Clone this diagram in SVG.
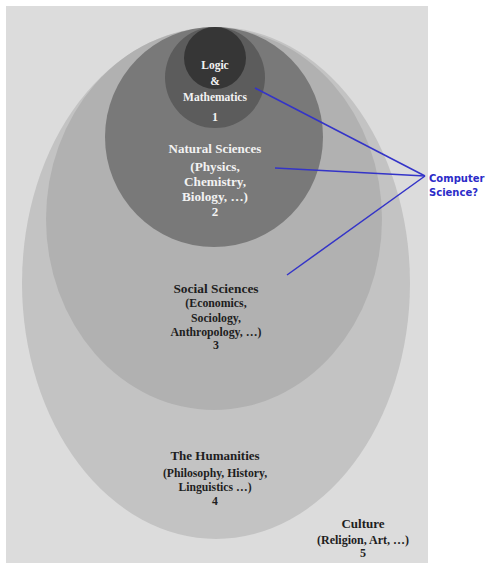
<svg xmlns="http://www.w3.org/2000/svg" width="488" height="565" viewBox="0 0 488 565">
<style>
.lbl{font-family:"Liberation Serif","Times New Roman",serif;font-weight:bold;text-anchor:middle}
.w{fill:#f2f2f2}
.d{fill:#1e1e1e}
.cs{font-family:"DejaVu Sans",sans-serif;font-weight:bold;font-size:10px;fill:#2b2bc8}
.conn{stroke:#3434c8;stroke-width:1.5;fill:none}
</style>
<rect x="0" y="0" width="488" height="565" fill="#ffffff"/>
<g id="culture">
<rect x="6" y="6" width="422" height="557" fill="#dcdcdc"/>
<text class="lbl d" x="363" y="528" font-size="13">Culture</text>
<text class="lbl d" x="363" y="544" font-size="12">(Religion, Art, …)</text>
<text class="lbl d" x="363" y="557" font-size="12">5</text>
</g>
<g id="humanities">
<ellipse cx="216" cy="283" rx="194" ry="256" fill="#c3c3c3"/>
<text class="lbl d" x="215" y="460" font-size="13">The Humanities</text>
<text class="lbl d" x="215" y="477" font-size="11.7">(Philosophy, History,</text>
<text class="lbl d" x="215" y="491" font-size="11.7">Linguistics …)</text>
<text class="lbl d" x="215" y="505" font-size="11.7">4</text>
</g>
<g id="social">
<ellipse cx="214" cy="219" rx="168" ry="191" fill="#b1b1b1"/>
<text class="lbl d" x="216" y="293" font-size="13.4">Social Sciences</text>
<text class="lbl d" x="216" y="307" font-size="11.8">(Economics,</text>
<text class="lbl d" x="216" y="322" font-size="11.8">Sociology,</text>
<text class="lbl d" x="216" y="336" font-size="11.8">Anthropology, …)</text>
<text class="lbl d" x="216" y="349" font-size="11.8">3</text>
</g>
<g id="natural">
<ellipse cx="214" cy="137" rx="109" ry="110" fill="#797979"/>
<text class="lbl w" x="215" y="153" font-size="13">Natural Sciences</text>
<text class="lbl w" x="215" y="171" font-size="13.2">(Physics,</text>
<text class="lbl w" x="215" y="186" font-size="13.2">Chemistry,</text>
<text class="lbl w" x="215" y="201" font-size="13.2">Biology, …)</text>
<text class="lbl w" x="215" y="216" font-size="13">2</text>
</g>
<g id="logic">
<ellipse cx="215" cy="77.5" rx="50" ry="50.5" fill="#5c5c5c"/>
<ellipse cx="215" cy="58" rx="31" ry="31" fill="#363636"/>
<text class="lbl w" x="215" y="69" font-size="11.5">Logic</text>
<text class="lbl w" x="215" y="85" font-size="11.5">&amp;</text>
<text class="lbl w" x="215" y="101" font-size="11.5">Mathematics</text>
<text class="lbl w" x="215" y="121" font-size="12">1</text>
</g>
<g id="connectors">
<line class="conn" x1="255" y1="88" x2="425" y2="176"/>
<line class="conn" x1="275" y1="168" x2="425" y2="176"/>
<line class="conn" x1="287" y1="275" x2="425" y2="176"/>
</g>
<g id="computer-science">
<text class="cs" x="429" y="182">Computer</text>
<text class="cs" x="429" y="196">Science?</text>
</g>
</svg>
